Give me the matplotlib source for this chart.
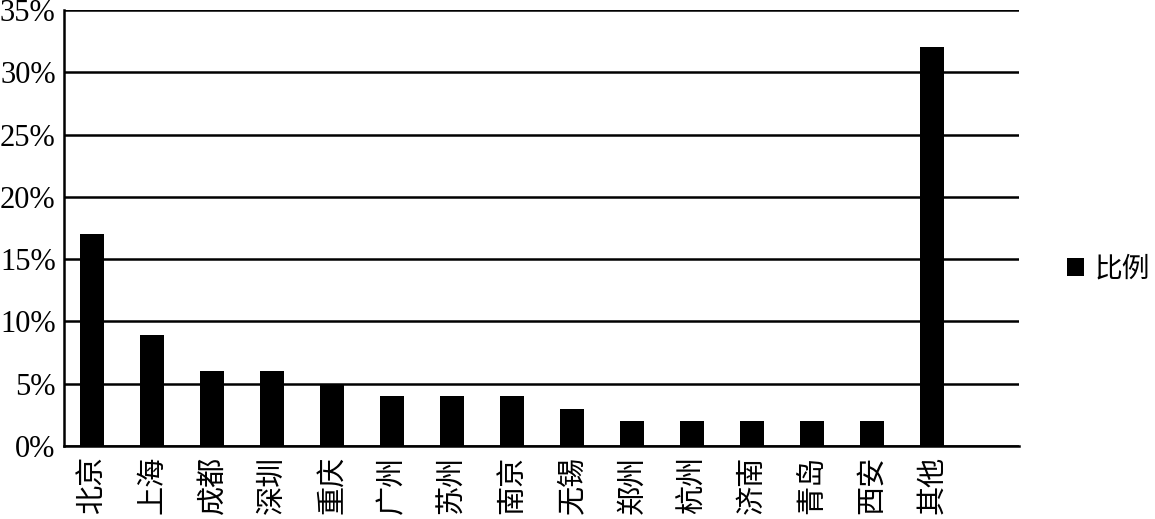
import matplotlib
matplotlib.use('Agg')
import matplotlib.pyplot as plt
from matplotlib.ticker import FuncFormatter

# data
cities = ['北京', '上海', '成都', '深圳', '重庆', '广州', '苏州', '南京',
          '无锡', '郑州', '杭州', '济南', '青岛', '西安', '其他']
share = [17, 8.9, 6, 6, 5, 4, 4, 4, 3, 2, 2, 2, 2, 2, 32]
y_ticks = [0, 5, 10, 15, 20, 25, 30, 35]

plt.rcParams['font.family'] = ['Liberation Serif', 'Noto Sans CJK SC', 'DejaVu Sans']

fig = plt.figure(figsize=(11.55, 5.19), dpi=100)
ax = fig.add_axes([0.0554, 0.1407, 0.8269, 0.84])

x = list(range(len(cities)))
ax.bar(x, share, width=0.4, color='black', label='比例', zorder=3)

# y axis
ax.set_ylim(0, 35)
ax.set_yticks(y_ticks)
ax.yaxis.set_major_formatter(FuncFormatter(lambda v, p: '%d%%' % v))
ax.grid(axis='y', color='black', lw=1.8, zorder=0)
ax.tick_params(axis='y', length=0, pad=6, labelsize=22)

# x axis
ax.set_xlim(-0.47, 15.45)
ax.set_xticks(x)
ax.set_xticklabels(cities, rotation=90, fontsize=21, va='top', ha='center',
                   family=['Noto Sans CJK SC', 'DejaVu Sans'])
ax.tick_params(axis='x', length=0, pad=7)

for s in ['top', 'right']:
    ax.spines[s].set_visible(False)
ax.spines['left'].set_linewidth(1.8)
ax.spines['bottom'].set_linewidth(1.8)

fig.legend(loc='center left', bbox_to_anchor=(0.924, 0.482), frameon=False,
           borderpad=0, borderaxespad=0,
           handlelength=0.6, handleheight=0.6, handletextpad=0.4,
           prop={'family': ['Noto Sans CJK SC'], 'size': 20})

plt.savefig('out.png', dpi=100)
